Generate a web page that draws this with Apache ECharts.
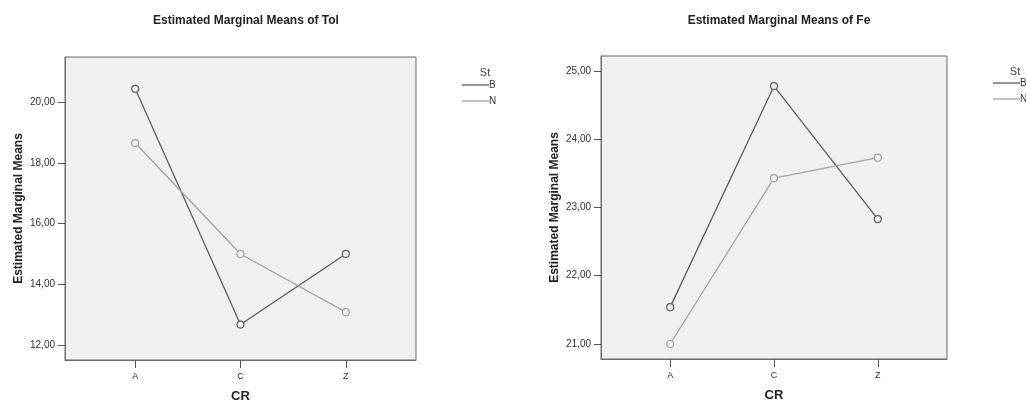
<!DOCTYPE html>
<html><head><meta charset="utf-8">
<script src="https://cdn.jsdelivr.net/npm/echarts@6/dist/echarts.min.js"></script>
<style>html,body{margin:0;padding:0;background:#fff}#c{width:1026px;height:408px}</style>
</head><body><div id="c"></div>
<script>
const categories = ['A', 'C', 'Z'];
const tolB = [20.45, 12.67, 15.00];
const tolN = [18.66, 15.00, 13.08];
const feB = [21.54, 24.78, 22.83];
const feN = [21.00, 23.43, 23.73];
const tolTicks = [12, 14, 16, 18, 20];
const feTicks = [21, 22, 23, 24, 25];
const legendNames = ['B', 'N'];

const FONT = 'Liberation Sans, Arial, sans-serif';
const colB = '#5c5c5c', colN = '#a3a3a3';
const toPts = arr => arr.map((v, i) => [i, v]);
const fmtTick = v => v.toFixed(2).replace('.', ',');

function xAxis(gi) {
  return {
    type: 'value', gridIndex: gi, min: -2/3, max: 8/3,
    name: 'CR', nameLocation: 'middle', nameGap: 30,
    nameTextStyle: { fontFamily: FONT, fontWeight: 'bold', fontSize: 13, color: '#222' },
    axisLine: { show: true, onZero: false, lineStyle: { color: '#6a6a6a' } },
    axisTick: { show: true, length: 8, customValues: [0, 1, 2], lineStyle: { color: '#555' } },
    axisLabel: { customValues: [0, 1, 2], formatter: v => categories[Math.round(v)], fontFamily: FONT, fontSize: 9, color: '#333', margin: 12 },
    splitLine: { show: false }
  };
}
function yAxis(gi, min, max, ticks) {
  return {
    type: 'value', gridIndex: gi, min: min, max: max,
    name: 'Estimated Marginal Means', nameLocation: 'middle', nameGap: 40,
    nameTextStyle: { fontFamily: FONT, fontWeight: 'bold', fontSize: 12, color: '#222' },
    axisLine: { show: true, onZero: false, lineStyle: { color: '#6a6a6a' } },
    axisTick: { show: true, length: 7, customValues: ticks, lineStyle: { color: '#555' } },
    axisLabel: { customValues: ticks, formatter: fmtTick, fontFamily: FONT, fontSize: 10, color: '#333', margin: 10 },
    splitLine: { show: false }
  };
}
function line(name, data, color, gi) {
  return {
    type: 'line', name: name, xAxisIndex: gi, yAxisIndex: gi, data: toPts(data),
    symbol: 'circle', symbolSize: 7, showSymbol: true,
    itemStyle: { color: '#f0f0f0', borderColor: color, borderWidth: 1.2 },
    lineStyle: { color: color, width: 1.3 },
    animation: false
  };
}
function legend(left, top) {
  return {
    orient: 'vertical', left: left, top: top, padding: 0,
    data: [
      { name: legendNames[0], itemStyle: { color: colB, borderWidth: 0 } },
      { name: legendNames[1], itemStyle: { color: colN, borderWidth: 0 } }
    ],
    icon: 'rect', itemWidth: 27, itemHeight: 1.3, itemGap: 6,
    textStyle: { fontFamily: FONT, fontSize: 10, color: '#333', padding: [0, 0, 0, -5] },
    selectedMode: false
  };
}

const chart = echarts.init(document.getElementById('c'), null, { renderer: 'canvas' });
chart.setOption({
  animation: false,
  title: [
    { text: 'Estimated Marginal Means of Tol', left: 241, top: 10, textAlign: 'center',
      textStyle: { fontFamily: FONT, fontWeight: 'bold', fontSize: 12, color: '#222' } },
    { text: 'Estimated Marginal Means of Fe', left: 774, top: 10, textAlign: 'center',
      textStyle: { fontFamily: FONT, fontWeight: 'bold', fontSize: 12, color: '#222' } },
    { text: 'St', left: 480, top: 62, textAlign: 'center',
      textStyle: { fontFamily: FONT, fontWeight: 'normal', fontSize: 11, color: '#444' } },
    { text: 'St', left: 1010, top: 61, textAlign: 'center',
      textStyle: { fontFamily: FONT, fontWeight: 'normal', fontSize: 11, color: '#444' } }
  ],
  legend: [legend(462, 80), legend(993, 78)],
  grid: [
    { left: 65, top: 57, width: 351, height: 309, show: true, backgroundColor: '#f0f0f0', borderColor: '#6a6a6a', borderWidth: 1 },
    { left: 601, top: 56, width: 346, height: 303, show: true, backgroundColor: '#f0f0f0', borderColor: '#6a6a6a', borderWidth: 1 }
  ],
  xAxis: [xAxis(0), xAxis(1)],
  yAxis: [yAxis(0, 11.5, 21.5, tolTicks), yAxis(1, 20.78, 25.22, feTicks)],
  series: [
    line('B', tolB, colB, 0), line('N', tolN, colN, 0),
    line('B', feB, colB, 1), line('N', feN, colN, 1)
  ]
});
</script></body></html>
